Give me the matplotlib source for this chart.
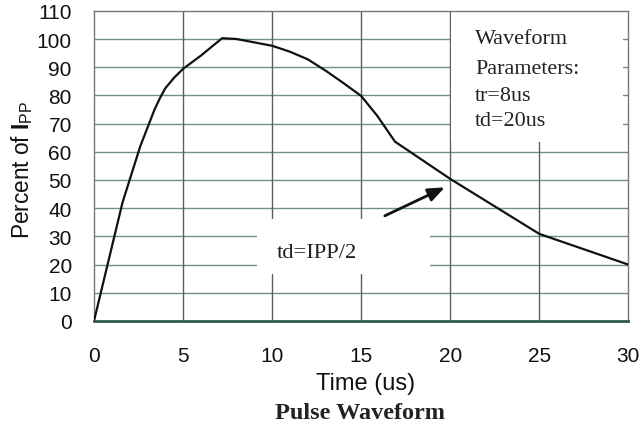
import matplotlib
matplotlib.use("Agg")
import matplotlib.pyplot as plt
from matplotlib.patches import Rectangle

# Data
time_us = [0, 1.6, 2.6, 3.0, 3.4, 3.7, 4.0, 4.5, 5.0, 6.0, 7.2, 8.0, 10.0, 11.0, 12.0,
           13.0, 14.0, 15.0, 15.9, 16.9, 20.0, 25.0, 30.0]
percent_ipp = [0, 42, 62, 68.5, 75, 79, 82.5, 86.3, 89.4, 94.1, 100.3, 100.0, 97.6, 95.5,
               92.8, 88.8, 84.4, 79.8, 72.8, 63.6, 50.4, 30.9, 20.0]
x_ticks = [0, 5, 10, 15, 20, 25, 30]
y_ticks = [0, 10, 20, 30, 40, 50, 60, 70, 80, 90, 100, 110]
param_lines = ["Waveform", "Parameters:", "tr=8us", "td=20us"]
td_label = "td=IPP/2"

plt.rcParams['mathtext.fontset'] = 'custom'
plt.rcParams['mathtext.rm'] = 'Liberation Sans'
plt.rcParams['mathtext.bf'] = 'Liberation Sans:bold'

fig = plt.figure(figsize=(6.42, 4.31), dpi=100)
ax = fig.add_axes([94/642, 1-322/431, (628.3-94)/642, (322-11.8)/431])
ax.set_xlim(0, 30)
ax.set_ylim(0, 110)

hcol = '#6f908a'
vcol = '#5e5e5e'
for y in y_ticks[1:-1]:
    ax.axhline(y, color=hcol, lw=1.0, zorder=1)
for x in x_ticks[1:-1]:
    ax.axvline(x, color=vcol, lw=1.0, zorder=1)

# white boxes behind the annotations
ax.add_patch(Rectangle((20.06, 63.5), 29.7-20.06, 110-63.5, facecolor='white',
                       edgecolor='none', zorder=2))
ax.add_patch(Rectangle((9.13, 16.7), 18.85-9.13, 36.2-16.7, facecolor='white',
                       edgecolor='none', zorder=2))

ax.plot(time_us, percent_ipp, color='#111111', lw=1.6, zorder=4,
        solid_joinstyle='round')

for s in ['top', 'right', 'left']:
    ax.spines[s].set_color('#777777')
    ax.spines[s].set_linewidth(1.0)
ax.spines['bottom'].set_color('#2f5a50')
ax.spines['bottom'].set_linewidth(2.0)
ax.spines['bottom'].set_zorder(5)

ax.set_xticks(x_ticks)
ax.set_yticks(y_ticks)
ax.tick_params(length=0, labelsize=15, colors='#111111', pad=16)
ax.tick_params(axis='x', pad=18)
for lab in ax.get_xticklabels() + ax.get_yticklabels():
    lab.set_fontfamily('Liberation Sans')

# parameter text
ys = [100.0, 89.6, 79.9, 71.0]
for t, yy in zip(param_lines, ys):
    ax.text(21.4, yy, t, fontsize=15.9, family='Liberation Serif', color='#222222',
            va='center', ha='left', zorder=6)

ax.text(12.5, 24.3, td_label, fontsize=16.2, family='Liberation Serif',
        color='#222222', va='center', ha='center', zorder=6)

ax.annotate('', xy=(19.7, 47.4), xytext=(16.33, 37.3),
            arrowprops=dict(arrowstyle='-|>,head_length=1.0,head_width=0.4',
                            color='#111111', lw=2.0, shrinkA=0, shrinkB=0),
            zorder=6)

fig.text(366/642, 1-384/431, 'Time (us)', fontsize=17, family='Liberation Sans',
         ha='center', va='center', color='#111111')
fig.text(360/642, 1-414/431, 'Pulse Waveform', fontsize=17.5, family='Liberation Serif',
         weight='bold', ha='center', va='center', color='#222222')
fig.text(22/642, 1-170/431, r'Percent of $\mathbf{I}_{\mathrm{PP}}$', fontsize=16.3,
         family='Liberation Sans', rotation=90, ha='center', va='center', color='#111111')

fig.savefig('out.png', dpi=100)
